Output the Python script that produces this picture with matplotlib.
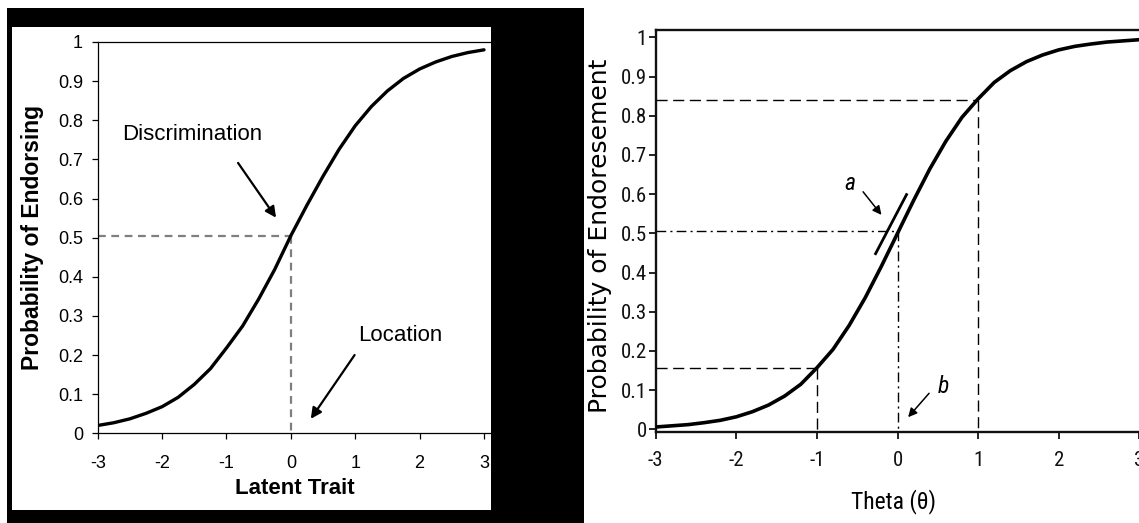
import matplotlib
matplotlib.use("Agg")
import matplotlib.pyplot as plt
from matplotlib.patches import Rectangle

plt.rcParams['axes.unicode_minus'] = False

# ---------------- data ----------------
# Left panel: item characteristic curve (Excel style)
left_x = [-3.0, -2.75, -2.5, -2.25, -2.0, -1.75, -1.5, -1.25, -1.0, -0.75, -0.5, -0.25,
          0.0, 0.25, 0.5, 0.75, 1.0, 1.25, 1.5, 1.75, 2.0, 2.25, 2.5, 2.75, 3.0]
left_p = [0.020, 0.027, 0.037, 0.051, 0.068, 0.092, 0.125, 0.165, 0.218, 0.274, 0.343, 0.419,
          0.505, 0.583, 0.657, 0.726, 0.786, 0.835, 0.875, 0.907, 0.931, 0.949, 0.963, 0.973, 0.980]
left_xticks = [-3, -2, -1, 0, 1, 2, 3]
left_yticks = [0, 0.1, 0.2, 0.3, 0.4, 0.5, 0.6, 0.7, 0.8, 0.9, 1]
left_yticklabels = ['0', '0.1', '0.2', '0.3', '0.4', '0.5', '0.6', '0.7', '0.8', '0.9', '1']
left_ref_x = 0.0
left_ref_p = 0.505

# Right panel: item characteristic curve (journal style)
right_x = [-3.0, -2.8, -2.6, -2.4, -2.2, -2.0, -1.8, -1.6, -1.4, -1.2, -1.0, -0.8, -0.6, -0.4, -0.2,
           0.0, 0.2, 0.4, 0.6, 0.8, 1.0, 1.2, 1.4, 1.6, 1.8, 2.0, 2.2, 2.4, 2.6, 2.8, 3.0]
right_p = [0.006, 0.009, 0.012, 0.017, 0.023, 0.032, 0.045, 0.062, 0.085, 0.115, 0.157, 0.204,
           0.265, 0.336, 0.416, 0.500, 0.584, 0.664, 0.735, 0.796, 0.843, 0.885, 0.915, 0.938,
           0.955, 0.968, 0.977, 0.983, 0.988, 0.991, 0.994]
right_xticks = [-3, -2, -1, 0, 1, 2, 3]
right_yticks = [0, 0.1, 0.2, 0.3, 0.4, 0.5, 0.6, 0.7, 0.8, 0.9, 1]
right_yticklabels = ['0', '0.1', '0.2', '0.3', '0.4', '0.5', '0.6', '0.7', '0.8', '0.9', '1']
right_lo_x, right_lo_p = -1.0, 0.157
right_mid_x, right_mid_p = 0.0, 0.505
right_hi_x, right_hi_p = 1.0, 0.840
slope_seg_x = [-0.28, 0.12]
slope_seg_p = [0.445, 0.602]

W, H = 1139, 523
fig = plt.figure(figsize=(W / 100, H / 100), dpi=100)
fig.patch.set_facecolor('white')

def fx(px):
    return px / W

def fy(py):
    return (H - py) / H

# black frame and white panel of the left chart
fig.add_artist(Rectangle((fx(7), 0), fx(584) - fx(7), fy(8), transform=fig.transFigure,
                         facecolor='black', edgecolor='none', zorder=-5))
fig.add_artist(Rectangle((fx(12), fy(510)), fx(491) - fx(12), fy(27) - fy(510),
                         transform=fig.transFigure, facecolor='white', edgecolor='none', zorder=-4))

ARIAL = ['Liberation Sans', 'DejaVu Sans']
NARROW = ['Liberation Sans Narrow', 'Roboto Condensed', 'Liberation Sans', 'DejaVu Sans']

# ---------------- left panel ----------------
x0, x3 = 97.7, 484.0
ppu = (x3 - x0) / 6.0
axL = fig.add_axes([fx(x0), fy(433.3), fx(491) - fx(x0), fy(42) - fy(433.3)])
axL.set_facecolor('white')
axL.set_xlim(-3, -3 + (491 - x0) / ppu)
axL.set_ylim(0, 1)
axL.plot(left_x, left_p, color='black', lw=2.4, solid_capstyle='round', zorder=3)
axL.plot([-3, left_ref_x], [left_ref_p, left_ref_p], color='#7f7f7f', lw=1.6,
         linestyle=(0, (3.5, 2.5)), zorder=2)
axL.plot([left_ref_x, left_ref_x], [left_ref_p, 0], color='#7f7f7f', lw=1.6,
         linestyle=(0, (3.5, 2.5)), zorder=2)
axL.spines['right'].set_visible(False)
for s in ['left', 'bottom', 'top']:
    axL.spines[s].set_linewidth(0.9)
    axL.spines[s].set_color('black')
axL.set_xticks(left_xticks)
axL.set_xticklabels([str(t) for t in left_xticks])
axL.set_yticks(left_yticks)
axL.set_yticklabels(left_yticklabels)
axL.tick_params(axis='both', direction='out', length=4, width=0.9, colors='black')
axL.tick_params(axis='y', pad=6.5)
axL.tick_params(axis='x', pad=11.5)
for lab in axL.get_xticklabels() + axL.get_yticklabels():
    lab.set_fontfamily(ARIAL)
    lab.set_fontsize(13)
axL.set_xlabel('Latent Trait', fontsize=16, fontweight='bold', family=ARIAL, va='center')
axL.xaxis.set_label_coords((295 - x0) / (491 - x0), (433.3 - 488) / (433.3 - 42))
axL.set_ylabel('Probability of Endorsing', fontsize=16.5, fontweight='bold', family=ARIAL,
               va='center', ha='center')
axL.yaxis.set_label_coords((33 - x0) / (491 - x0), 0.5)
axL.text(-1.525, 0.763, 'Discrimination', fontsize=16, family=ARIAL, ha='center', va='center')
axL.annotate('', xy=(-0.23, 0.551), xytext=(-0.82, 0.691),
             arrowprops=dict(arrowstyle='-|>', lw=1.6, color='black', mutation_scale=16,
                             shrinkA=0, shrinkB=0))
axL.text(1.70, 0.251, 'Location', fontsize=16, family=ARIAL, ha='center', va='center')
axL.annotate('', xy=(0.31, 0.037), xytext=(0.99, 0.200),
             arrowprops=dict(arrowstyle='-|>', lw=1.6, color='black', mutation_scale=16,
                             shrinkA=0, shrinkB=0))

# ---------------- right panel ----------------
rx0 = 655.7
rppu = 80.6
ylo, yhi = -0.006, 1.02
axR = fig.add_axes([fx(rx0), fy(431.7), 6.1 * rppu / W, fy(29.5) - fy(431.7)])
axR.set_facecolor('none')
axR.set_xlim(-3, 3.1)
axR.set_ylim(ylo, yhi)
axR.plot(right_x, right_p, color='black', lw=2.6, solid_capstyle='round', zorder=3)
dash = (0, (8, 4))
dashdot = (0, (7, 3, 1.5, 3))
axR.plot([-3, right_hi_x], [right_hi_p, right_hi_p], color='black', lw=1.0, linestyle=dash)
axR.plot([right_hi_x, right_hi_x], [right_hi_p, ylo], color='black', lw=1.0, linestyle=dash)
axR.plot([-3, right_lo_x], [right_lo_p, right_lo_p], color='black', lw=1.0, linestyle=dash)
axR.plot([right_lo_x, right_lo_x], [right_lo_p, ylo], color='black', lw=1.0, linestyle=dash)
axR.plot([-3, right_mid_x], [right_mid_p, right_mid_p], color='black', lw=1.0, linestyle=dashdot)
axR.plot([right_mid_x, right_mid_x], [right_mid_p, ylo], color='black', lw=1.0, linestyle=dashdot)
axR.plot(slope_seg_x, slope_seg_p, color='black', lw=2.0, solid_capstyle='butt', zorder=3)
axR.spines['right'].set_visible(False)
for s in ['left', 'bottom', 'top']:
    axR.spines[s].set_linewidth(1.7)
    axR.spines[s].set_color('#111111')
axR.set_xticks(right_xticks)
axR.set_xticklabels([str(t) for t in right_xticks])
axR.set_yticks(right_yticks)
axR.set_yticklabels(right_yticklabels)
axR.tick_params(axis='both', direction='out', length=5, width=1.3, colors='#111111')
axR.tick_params(axis='y', pad=1.5)
axR.tick_params(axis='x', pad=9.0)
for lab in axR.get_xticklabels() + axR.get_yticklabels():
    lab.set_fontfamily(NARROW)
    lab.set_fontstretch('condensed')
    lab.set_fontsize(15)
axR.set_xlabel('Theta (θ)', fontsize=17, family=NARROW, stretch='condensed', va='center')
axR.xaxis.set_label_coords((894 - rx0) / (6.1 * rppu), (431.7 - 501.7) / (431.7 - 29.5))
axR.set_ylabel('Probability of Endoresement', fontsize=18, family=['DejaVu Sans'],
               va='center', ha='center')
axR.yaxis.set_label_coords((600 - rx0) / (6.1 * rppu), (431.7 - 235.5) / (431.7 - 29.5))
axR.text(-0.593, 0.628, 'a', fontsize=17, family=NARROW, style='italic', ha='center', va='center')
axR.annotate('', xy=(-0.199, 0.547), xytext=(-0.427, 0.606),
             arrowprops=dict(arrowstyle='-|>', lw=1.1, color='black', mutation_scale=13,
                             shrinkA=0, shrinkB=0))
axR.text(0.566, 0.109, 'b', fontsize=17, family=NARROW, style='italic', ha='center', va='center')
axR.annotate('', xy=(0.132, 0.031), xytext=(0.392, 0.092),
             arrowprops=dict(arrowstyle='-|>', lw=1.1, color='black', mutation_scale=13,
                             shrinkA=0, shrinkB=0))

fig.savefig('out.png', dpi=100, facecolor='white')
